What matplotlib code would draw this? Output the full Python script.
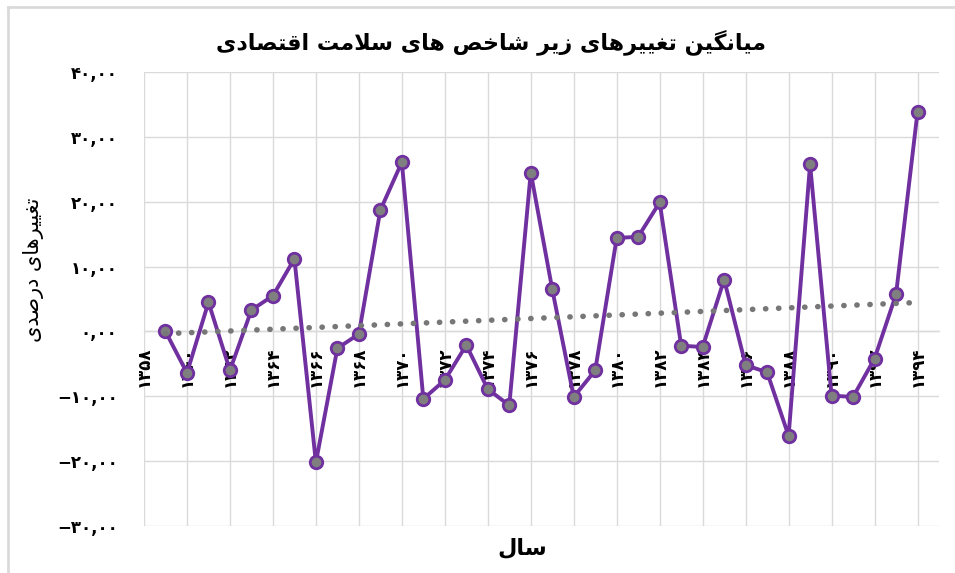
import numpy as np
import matplotlib
matplotlib.use('Agg')
import matplotlib.pyplot as plt
from matplotlib.lines import Line2D

# ---------------- data ----------------
years = list(range(1359, 1395))
values = [0.0, -6.4, 4.5, -6.0, 3.3, 5.5, 11.2, -20.2, -2.6, -0.4,
          18.7, 26.1, -10.4, -7.5, -2.1, -8.9, -11.4, 24.5, 6.5, -10.1,
          -6.0, 14.4, 14.6, 19.9, -2.2, -2.4, 8.0, -5.2, -6.3, -16.1,
          25.8, -9.9, -10.1, -4.2, 5.7, 33.8]
tick_years = list(range(1358, 1395, 2))
tick_labels = ['۱۳۵۸', '۱۳۶۰', '۱۳۶۲', '۱۳۶۴', '۱۳۶۶', '۱۳۶۸', '۱۳۷۰',
               '۱۳۷۲', '۱۳۷۴', '۱۳۷۶', '۱۳۷۸', '۱۳۸۰', '۱۳۸۲', '۱۳۸۴',
               '۱۳۸۶', '۱۳۸۸', '۱۳۹۰', '۱۳۹۲', '۱۳۹۴']
y_ticks = [-30, -20, -10, 0, 10, 20, 30, 40]
y_tick_labels = ['−۳۰,۰۰', '−۲۰,۰۰', '−۱۰,۰۰', '۰,۰۰', '۱۰,۰۰', '۲۰,۰۰',
                 '۳۰,۰۰', '۴۰,۰۰']
title_text = 'میانگین تغییرهای زیر شاخص های سلامت اقتصادی'
ylabel_text = 'تغییرهای درصدی'
xlabel_text = 'سال'

# ---------------- simple Arabic-script shaping ----------------
FORMS = {
    'ا': ('\uFE8D', '\uFE8E', None, None),
    'ت': ('\uFE95', '\uFE96', '\uFE97', '\uFE98'),
    'خ': ('\uFEA5', '\uFEA6', '\uFEA7', '\uFEA8'),
    'د': ('\uFEA9', '\uFEAA', None, None),
    'ر': ('\uFEAD', '\uFEAE', None, None),
    'ز': ('\uFEAF', '\uFEB0', None, None),
    'س': ('\uFEB1', '\uFEB2', '\uFEB3', '\uFEB4'),
    'ش': ('\uFEB5', '\uFEB6', '\uFEB7', '\uFEB8'),
    'ص': ('\uFEB9', '\uFEBA', '\uFEBB', '\uFEBC'),
    'غ': ('\uFECD', '\uFECE', '\uFECF', '\uFED0'),
    'ق': ('\uFED5', '\uFED6', '\uFED7', '\uFED8'),
    'ل': ('\uFEDD', '\uFEDE', '\uFEDF', '\uFEE0'),
    'م': ('\uFEE1', '\uFEE2', '\uFEE3', '\uFEE4'),
    'ن': ('\uFEE5', '\uFEE6', '\uFEE7', '\uFEE8'),
    'ه': ('\uFEE9', '\uFEEA', '\uFEEB', '\uFEEC'),
    'و': ('\uFEED', '\uFEEE', None, None),
    'ی': ('\uFBFC', '\uFBFD', '\uFBFE', '\uFBFF'),
    'گ': ('\uFB92', '\uFB93', '\uFB94', '\uFB95'),
    'LA': ('\uFEFB', '\uFEFC', None, None),
}
RIGHT = set('اآأإدذرزژوؤ') | {'LA'}


def jtype(t):
    if t in FORMS:
        return 'R' if t in RIGHT else 'D'
    return 'U'


def shape(s):
    tokens = []
    i = 0
    while i < len(s):
        if s[i] == 'ل' and i + 1 < len(s) and s[i + 1] == 'ا':
            tokens.append('LA')
            i += 2
        else:
            tokens.append(s[i])
            i += 1
    out = []
    for k, t in enumerate(tokens):
        if t not in FORMS:
            out.append(t)
            continue
        prev = tokens[k - 1] if k > 0 else None
        nxt = tokens[k + 1] if k + 1 < len(tokens) else None
        cp = prev is not None and jtype(prev) == 'D'
        cn = nxt is not None and jtype(t) == 'D' and jtype(nxt) != 'U'
        iso, fin, ini, med = FORMS[t]
        if cp and cn:
            f = med
        elif cp:
            f = fin
        elif cn:
            f = ini
        else:
            f = iso
        out.append(f)
    return ''.join(reversed(out))


# ---------------- figure ----------------
plt.rcParams['font.family'] = ['DejaVu Sans']
W, H = 955, 573
fig = plt.figure(figsize=(W / 100, H / 100), dpi=100)
fig.patch.set_facecolor('white')

ax = fig.add_axes([144 / W, 1 - 526 / H, (939 - 144) / W, (526 - 72) / H])
ax.set_xlim(1358, 1395)
ax.set_ylim(-30, 40)

grid_c = '#dadada'
for sp in ['top', 'right', 'left']:
    ax.spines[sp].set_visible(False)
ax.spines['bottom'].set_position(('data', 0))
ax.spines['bottom'].set_color(grid_c)
ax.spines['bottom'].set_linewidth(1.0)

ax.set_xticks(tick_years)
ax.set_xticklabels(tick_labels, fontsize=12, fontweight='bold')
ax.set_yticks(y_ticks)
ax.set_yticklabels(y_tick_labels, fontsize=12, fontweight='bold')
ax.grid(True, color=grid_c, linewidth=1.0)
ax.set_axisbelow(True)
ax.tick_params(axis='x', length=0, pad=11, labelrotation=90)
ax.tick_params(axis='y', length=0, pad=19)

# series
ax.plot(years, values, color='#7030A0', linewidth=2.8, marker='o',
        markersize=9, markerfacecolor='#7f7f7f', markeredgecolor='#7030A0',
        markeredgewidth=2.0, zorder=3)

# linear trend
coef = np.polyfit(years, values, 1)
trend_x = np.array([years[0], years[-1]])
ax.plot(trend_x, np.polyval(coef, trend_x), color='#777777', linewidth=4.0,
        linestyle=(0, (0.05, 2.3)), dash_capstyle='round', zorder=4)

# texts
fig.text(491 / W, 1 - 42 / H, shape(title_text), ha='center', va='center',
         fontsize=16, fontweight='bold')
fig.text(33 / W, 1 - 270 / H, shape(ylabel_text), ha='center', va='center',
         rotation=90, fontsize=15)
fig.text(522 / W, 1 - 548 / H, shape(xlabel_text), ha='center', va='center',
         fontsize=16, fontweight='bold')

# chart frame (left and top edges visible)
fig.add_artist(Line2D([8 / W, 8 / W], [0, 1 - 7 / H], transform=fig.transFigure,
                      color=grid_c, linewidth=2))
fig.add_artist(Line2D([8 / W, 1], [1 - 7 / H, 1 - 7 / H], transform=fig.transFigure,
                      color=grid_c, linewidth=2))

fig.savefig('out.png', dpi=100, facecolor='white')
